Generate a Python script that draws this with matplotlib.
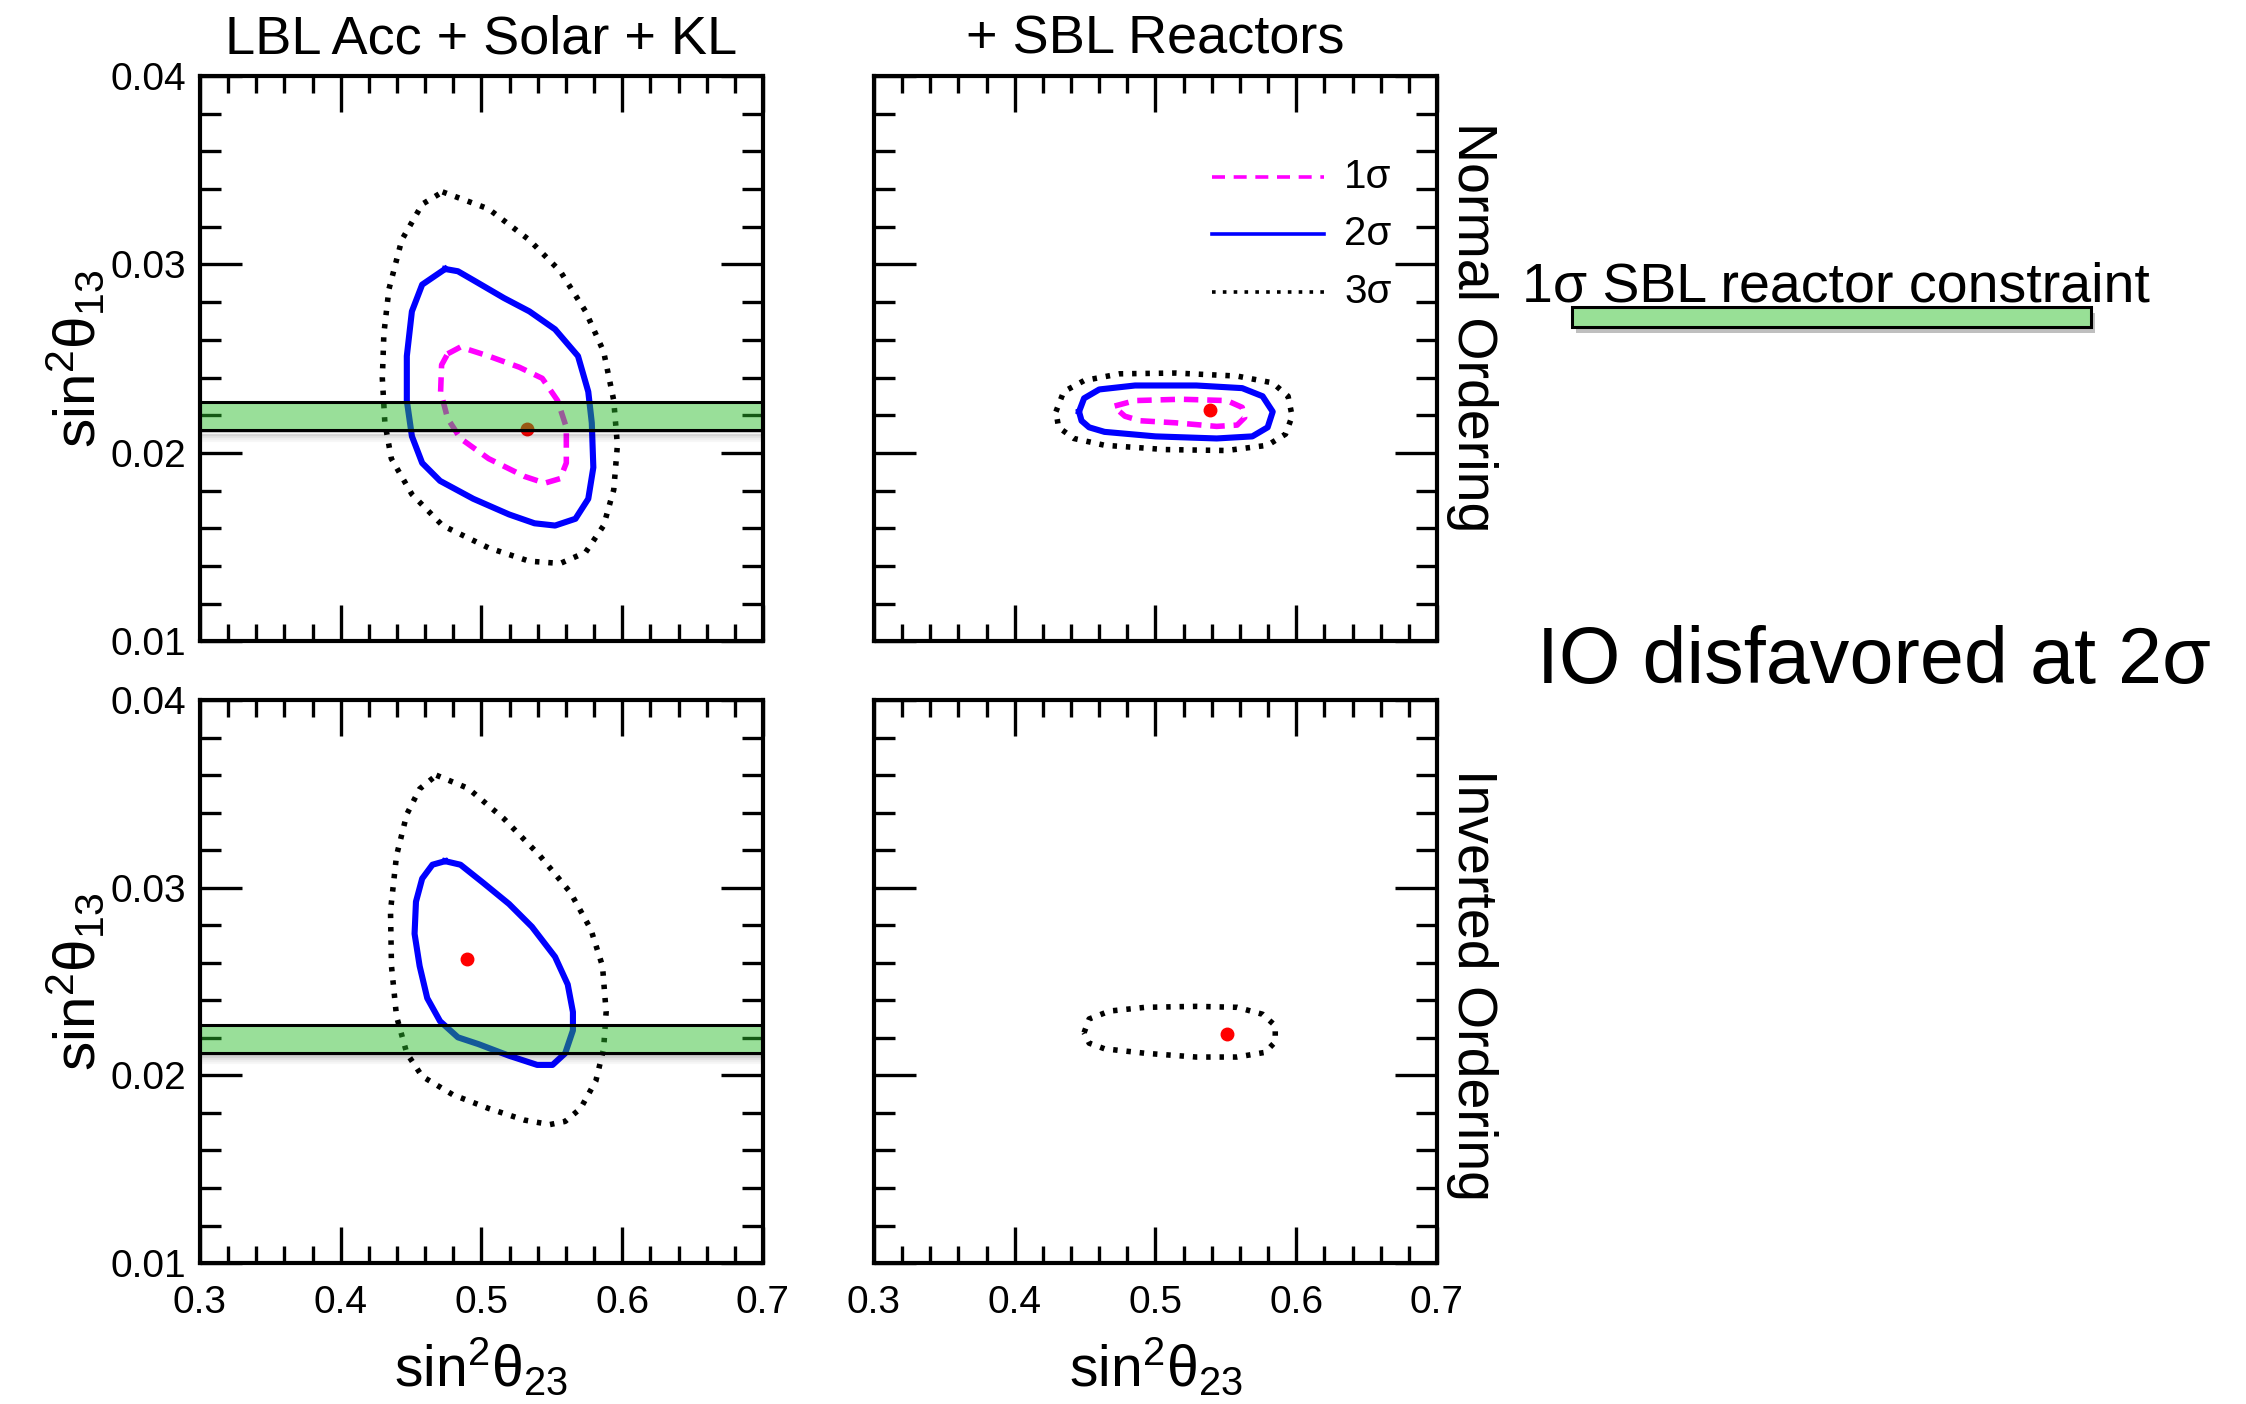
import matplotlib
matplotlib.use("Agg")
import matplotlib.pyplot as plt
import matplotlib.patheffects as pe
from matplotlib.patches import Rectangle
from matplotlib.ticker import MultipleLocator, FormatStrFormatter
from matplotlib.transforms import ScaledTranslation

plt.rcParams['font.family'] = ['Liberation Sans', 'DejaVu Sans']
plt.rcParams['mathtext.fontset'] = 'custom'
plt.rcParams['mathtext.rm'] = 'Liberation Sans'
plt.rcParams['mathtext.it'] = 'Liberation Sans'
plt.rcParams['mathtext.bf'] = 'Liberation Sans:bold'

# --- contour data (sin^2 theta23, sin^2 theta13) ---

# NO, LBL Acc + Solar + KL
no_lbl_3s_x = [0.4724, 0.505, 0.534, 0.556, 0.574, 0.5868, 0.594, 0.5966, 0.594, 0.5868, 0.574, 0.556,
               0.534, 0.505, 0.4724, 0.4506, 0.436, 0.4314, 0.4296, 0.4307, 0.4343, 0.4434, 0.458]
no_lbl_3s_y = [0.03385, 0.03295, 0.0313, 0.02964, 0.02751, 0.02538, 0.02278, 0.02041, 0.01805, 0.01615,
               0.01473, 0.01414, 0.01426, 0.01497, 0.01615, 0.01781, 0.0197, 0.0216, 0.02396, 0.02633,
               0.02869, 0.0313, 0.0332]
no_lbl_2s_x = [0.4742, 0.4833, 0.4942, 0.516, 0.5341, 0.5523, 0.5686, 0.5759, 0.5784, 0.5795, 0.5759,
               0.5668, 0.5523, 0.5377, 0.5196, 0.4942, 0.4706, 0.4579, 0.4506, 0.447, 0.447, 0.4506, 0.4579]
no_lbl_2s_y = [0.02976, 0.02964, 0.02917, 0.02822, 0.02751, 0.02656, 0.02514, 0.02325, 0.0216, 0.01923,
               0.01757, 0.01651, 0.01615, 0.01627, 0.01674, 0.01757, 0.01852, 0.01947, 0.02089, 0.02278,
               0.02514, 0.02751, 0.02893]
no_lbl_1s_x = [0.476, 0.4851, 0.5051, 0.5269, 0.5432, 0.5541, 0.5603, 0.5603, 0.5559, 0.545, 0.5305,
               0.5051, 0.4851, 0.476, 0.471, 0.4717]
no_lbl_1s_y = [0.02526, 0.02562, 0.02514, 0.02455, 0.02396, 0.02278, 0.02136, 0.01947, 0.01864, 0.0184,
               0.01876, 0.0197, 0.02077, 0.02183, 0.02325, 0.02467]
no_lbl_bf = (0.5323, 0.02129)

# NO, + SBL reactors
no_sbl_3s_x = [0.4293, 0.4348, 0.4493, 0.4746, 0.5145, 0.558, 0.5833, 0.5942, 0.5971, 0.5924, 0.5797,
               0.5507, 0.5072, 0.4638, 0.442, 0.4312]
no_sbl_3s_y = [0.02219, 0.02325, 0.02384, 0.0242, 0.02424, 0.02408, 0.02372, 0.02301, 0.02195, 0.021,
               0.02041, 0.02013, 0.02018, 0.02041, 0.02077, 0.02136]
no_sbl_2s_x = [0.4457, 0.4493, 0.4601, 0.4855, 0.529, 0.5616, 0.5761, 0.5833, 0.5797, 0.5688, 0.5435,
               0.5, 0.4638, 0.4529, 0.4475]
no_sbl_2s_y = [0.02219, 0.0229, 0.02337, 0.02358, 0.02358, 0.02344, 0.02301, 0.02219, 0.02136, 0.02088,
               0.02077, 0.02088, 0.02112, 0.02136, 0.02171]
no_sbl_1s_x = [0.471, 0.4855, 0.5181, 0.5507, 0.5616, 0.5634, 0.558, 0.5435, 0.5145, 0.4891, 0.4783, 0.4728]
no_sbl_1s_y = [0.02249, 0.02278, 0.02285, 0.02278, 0.02242, 0.02188, 0.02148, 0.02141, 0.0216, 0.02171,
               0.02195, 0.02231]
no_sbl_bf = (0.5388, 0.0223)

# IO, LBL Acc + Solar + KL
io_lbl_3s_x = [0.468, 0.4906, 0.516, 0.5414, 0.5632, 0.5777, 0.586, 0.5886, 0.5868, 0.5813, 0.5704,
               0.5595, 0.5486, 0.5305, 0.5051, 0.4797, 0.4579, 0.447, 0.4397, 0.4361, 0.4354, 0.4397,
               0.447, 0.4561]
io_lbl_3s_y = [0.036, 0.0353, 0.03368, 0.03172, 0.02975, 0.02779, 0.02583, 0.02338, 0.02142, 0.01971,
               0.01824, 0.01755, 0.01738, 0.01762, 0.01824, 0.01897, 0.01995, 0.02118, 0.02314, 0.02583,
               0.02877, 0.03172, 0.03392, 0.03527]
io_lbl_2s_x = [0.4742, 0.4851, 0.5015, 0.5196, 0.5359, 0.5523, 0.5613, 0.565, 0.565, 0.5595, 0.5505,
               0.5396, 0.5196, 0.4978, 0.4833, 0.4706, 0.4615, 0.4561, 0.4525, 0.4535, 0.4579, 0.4652]
io_lbl_2s_y = [0.03142, 0.03123, 0.03025, 0.02914, 0.02792, 0.02632, 0.02485, 0.02338, 0.0224, 0.02118,
               0.02056, 0.02056, 0.02105, 0.02167, 0.02203, 0.02289, 0.02412, 0.02583, 0.02755, 0.02926,
               0.03049, 0.03123]
io_lbl_bf = (0.4898, 0.0262)

# IO, + SBL reactors
io_sbl_3s_x = [0.4493, 0.4529, 0.4674, 0.4928, 0.529, 0.558, 0.5761, 0.5851, 0.5851, 0.5779, 0.558,
               0.529, 0.4928, 0.4638, 0.4529]
io_sbl_3s_y = [0.02228, 0.02301, 0.02343, 0.02363, 0.02368, 0.02363, 0.02326, 0.02265, 0.02179, 0.02123,
               0.02098, 0.02098, 0.02118, 0.02142, 0.02172]
io_sbl_bf = (0.5507, 0.0222)

# 1 sigma SBL reactor band
band_lo, band_hi = 0.0212, 0.0227

col_titles = ["LBL Acc + Solar + KL", "+ SBL Reactors"]
row_labels = ["Normal Ordering", "Inverted Ordering"]
sigma_labels = ["1σ", "2σ", "3σ"]

STYLE = {
    1: dict(color='#ff00ff', lw=4.0, ls=(0, (2.6, 1.6))),
    2: dict(color='#0000ff', lw=4.4, ls='-'),
    3: dict(color='black', lw=4.0, ls=(0, (0.8, 1.6))),
}


def closed(v):
    return list(v) + [v[0]]


def draw_contour(ax, xs, ys, level):
    st = STYLE[level]
    ax.plot(closed(xs), closed(ys), color=st['color'], lw=st['lw'], ls=st['ls'],
            solid_joinstyle='round', dash_capstyle='butt', dash_joinstyle='round', zorder=2)


def draw_band(ax, fig):
    ax.axhspan(band_lo, band_hi, facecolor='#2abc2a', alpha=0.48, edgecolor='none', zorder=3)
    ax.axhline(band_hi, color='black', lw=2.2, zorder=3.2)
    ax.axhline(band_lo, color='black', lw=2.2, zorder=3.2)
    # soft shadow under the band
    for k, a in zip([1.5, 3, 4.5, 6, 7.5], [0.22, 0.16, 0.1, 0.06, 0.03]):
        tr = ax.get_yaxis_transform() + ScaledTranslation(0, -k / 72, fig.dpi_scale_trans)
        ax.plot([0, 1], [band_lo, band_lo], transform=tr, color='black', alpha=a, lw=1.6, zorder=2.9)


def style_axes(ax, left, bottom):
    ax.set_xlim(0.3, 0.7)
    ax.set_ylim(0.01, 0.04)
    ax.xaxis.set_major_locator(MultipleLocator(0.1))
    ax.xaxis.set_minor_locator(MultipleLocator(0.02))
    ax.yaxis.set_major_locator(MultipleLocator(0.01))
    ax.yaxis.set_minor_locator(MultipleLocator(0.002))
    ax.xaxis.set_major_formatter(FormatStrFormatter('%.1f'))
    ax.yaxis.set_major_formatter(FormatStrFormatter('%.2f'))
    ax.tick_params(which='both', direction='in', top=True, right=True, width=2.4, labelsize=28)
    ax.tick_params(axis='x', which='major', length=26, pad=16)
    ax.tick_params(axis='x', which='minor', length=12)
    ax.tick_params(axis='y', which='major', length=30, pad=10)
    ax.tick_params(axis='y', which='minor', length=15)
    ax.tick_params(labelbottom=bottom, labelleft=left)
    for s in ax.spines.values():
        s.set_linewidth(3.0)
        s.set_zorder(5)
    if left:
        ax.set_ylabel(r'$\mathregular{sin^2\theta_{13}}$', fontsize=42)
        ax.yaxis.set_label_coords(-0.165, 0.5)
    if bottom:
        ax.set_xlabel(r'$\mathregular{sin^2\theta_{23}}$', fontsize=41)
        ax.xaxis.set_label_coords(0.5, -0.13)


fig = plt.figure(figsize=(22.46, 14.04), dpi=100)

xl, xr, w = 0.0890, 0.3891, 0.2507
ax_tl = fig.add_axes([xl, 0.5431, w, 0.4028])
ax_tr = fig.add_axes([xr, 0.5431, w, 0.4028])
ax_bl = fig.add_axes([xl, 0.1004, w, 0.4009])
ax_br = fig.add_axes([xr, 0.1004, w, 0.4009])

style_axes(ax_tl, True, False)
style_axes(ax_tr, False, False)
style_axes(ax_bl, True, True)
style_axes(ax_br, False, True)

ax_tl.set_title(col_titles[0], fontsize=39, pad=16)
ax_tr.set_title(col_titles[1], fontsize=39, pad=16)

# top-left
draw_contour(ax_tl, no_lbl_3s_x, no_lbl_3s_y, 3)
draw_contour(ax_tl, no_lbl_2s_x, no_lbl_2s_y, 2)
draw_contour(ax_tl, no_lbl_1s_x, no_lbl_1s_y, 1)
ax_tl.plot(*no_lbl_bf, 'o', color='red', ms=9, zorder=2.5)
draw_band(ax_tl, fig)

# top-right
draw_contour(ax_tr, no_sbl_3s_x, no_sbl_3s_y, 3)
draw_contour(ax_tr, no_sbl_2s_x, no_sbl_2s_y, 2)
draw_contour(ax_tr, no_sbl_1s_x, no_sbl_1s_y, 1)
ax_tr.plot(*no_sbl_bf, 'o', color='red', ms=9, zorder=2.5)

# bottom-left
draw_contour(ax_bl, io_lbl_3s_x, io_lbl_3s_y, 3)
draw_contour(ax_bl, io_lbl_2s_x, io_lbl_2s_y, 2)
ax_bl.plot(*io_lbl_bf, 'o', color='red', ms=9, zorder=2.5)
draw_band(ax_bl, fig)

# bottom-right
draw_contour(ax_br, io_sbl_3s_x, io_sbl_3s_y, 3)
ax_br.plot(*io_sbl_bf, 'o', color='red', ms=9, zorder=2.5)

# legend in top-right panel
for i, (lev, lab) in enumerate(zip([1, 2, 3], sigma_labels)):
    yy = 0.822 - 0.102 * i
    st = STYLE[lev]
    ax_tr.plot([0.60, 0.80], [yy, yy], transform=ax_tr.transAxes, color=st['color'],
               lw=2.6, ls=st['ls'] if lev == 2 else ((0, (3.6, 2.4)) if lev == 1 else (0, (1.0, 2.0))),
               zorder=4)
    ax_tr.text(0.835, yy, lab, transform=ax_tr.transAxes, fontsize=29, va='center', ha='left')

# row labels on the right
fig.text(0.6555, 0.9133, row_labels[0], rotation=270, fontsize=40, ha='center', va='top')
fig.text(0.6555, 0.4523, row_labels[1], rotation=270, fontsize=40, ha='center', va='top')

# annotation on the right
fig.text(0.6777, 0.7856, "1σ SBL reactor constraint", fontsize=40, ha='left', va='baseline')
bar = Rectangle((0.6999, 0.7671), 0.2311, 0.01425, transform=fig.transFigure,
                facecolor='#98e096', edgecolor='black', lw=2.2)
bar.set_path_effects([pe.SimplePatchShadow(offset=(3, -4), shadow_rgbFace='black', alpha=0.25),
                      pe.Normal()])
fig.patches.append(bar)

fig.text(0.6843, 0.5135, "IO disfavored at 2σ", fontsize=57, ha='left', va='baseline')

fig.savefig("out.png", dpi=100)
